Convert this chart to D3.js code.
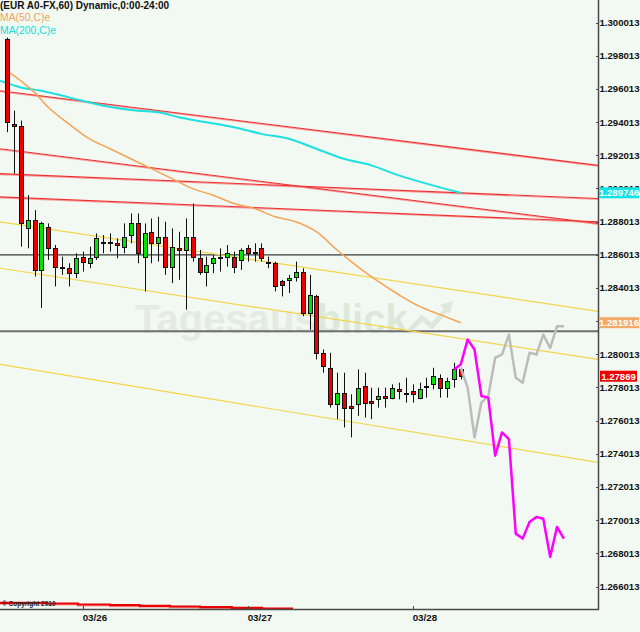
<!DOCTYPE html>
<html><head><meta charset="utf-8">
<script src="https://cdn.jsdelivr.net/npm/d3@7"></script>
<style>html,body{margin:0;padding:0;background:#f2f8f2;}svg{display:block;font-family:"Liberation Sans",Arial,sans-serif;}</style>
</head><body><svg id="c" width="640" height="632"></svg>
<script>
// ---------- DATA (EUR hourly candles) ----------
const startTime = "2013-03-25T13:00:00";   // first candle (hourly)
const candleOpen  = [1.2990,1.2939,1.2938,1.2876,1.2881,1.2851,1.2877,1.2864,1.2853,1.2852,1.2849,1.2859,1.2855,1.2859,1.2868,1.2868,1.2867,1.2865,1.2872,1.2879,1.2859,1.2874,1.2867,1.2871,1.2853,1.2864,1.2863,1.2871,1.2858,1.2850,1.2855,1.2858,1.2859,1.2859,1.2857,1.2864,1.2861,1.2864,1.2856,1.2855,1.2844,1.2845,1.2847,1.2850,1.2825,1.2835,1.2801,1.2792,1.2770,1.2777,1.2769,1.2770,1.2781,1.2772,1.2773,1.2775,1.2774,1.2779,1.2777,1.2778,1.2774,1.2781,1.2782,1.2786,1.2780,1.2785,1.2791];
const candleHigh  = [1.2991,1.2947,1.2941,1.2896,1.2887,1.2880,1.2879,1.2866,1.2859,1.2855,1.2861,1.2862,1.2865,1.2873,1.2872,1.2873,1.2870,1.2879,1.2885,1.2885,1.2879,1.2882,1.2883,1.2880,1.2876,1.2874,1.2882,1.2891,1.2863,1.2859,1.2860,1.2864,1.2866,1.2862,1.2864,1.2866,1.2867,1.2867,1.2859,1.2856,1.2845,1.2848,1.2856,1.2852,1.2848,1.2836,1.2803,1.2801,1.2789,1.2789,1.2776,1.2791,1.2789,1.2780,1.2780,1.2780,1.2782,1.2783,1.2786,1.2782,1.2783,1.2786,1.2792,1.2788,1.2786,1.2795,1.2792];
const candleLow   = [1.2934,1.2909,1.2865,1.2864,1.2847,1.2828,1.2857,1.2841,1.2848,1.2841,1.2846,1.2850,1.2852,1.2857,1.2861,1.2862,1.2858,1.2861,1.2867,1.2855,1.2838,1.2855,1.2856,1.2848,1.2843,1.2845,1.2827,1.2856,1.2848,1.2841,1.2849,1.2850,1.2853,1.2849,1.2851,1.2856,1.2856,1.2856,1.2852,1.2838,1.2835,1.2837,1.2844,1.2823,1.2815,1.2797,1.2789,1.2768,1.2761,1.2756,1.2750,1.2763,1.2762,1.2761,1.2768,1.2768,1.2773,1.2773,1.2771,1.2771,1.2773,1.2774,1.2779,1.2774,1.2774,1.2780,1.2785];
const candleClose = [1.2940,1.2938,1.2879,1.2881,1.2851,1.2879,1.2864,1.2853,1.2852,1.2849,1.2858,1.2856,1.2858,1.2870,1.2868,1.2868,1.2866,1.2871,1.2879,1.2861,1.2873,1.2867,1.2871,1.2853,1.2865,1.2863,1.2871,1.2859,1.2850,1.2854,1.2858,1.2859,1.2861,1.2853,1.2863,1.2861,1.2862,1.2858,1.2855,1.2841,1.2842,1.2846,1.2850,1.2825,1.2836,1.2801,1.2793,1.2770,1.2777,1.2768,1.2768,1.2780,1.2771,1.2771,1.2775,1.2774,1.2780,1.2778,1.2776,1.2776,1.2779,1.2781,1.2787,1.2780,1.2784,1.2791,1.27869];

// moving averages: [candle index, value]
const ma50  = [[0,1.2971],[2,1.2965],[4,1.2958],[6,1.2949],[9,1.2939],[12,1.2930],[15,1.2924],[18,1.2918],[21,1.2912],[24,1.2906],[27,1.2900],[30,1.2896],[33,1.2891],[36,1.2888],[39,1.2883],[42,1.2880],[45,1.2874],[48,1.2863],[51,1.2853],[54,1.2844],[57,1.2836],[60,1.2829],[63,1.2824],[66,1.281916]];
const ma200 = [[-1,1.2965],[2,1.2961],[5,1.2959],[9,1.2955],[14,1.2950],[19,1.2947],[22,1.2946],[25,1.2943],[29,1.2940],[33,1.2937],[37,1.2933],[41,1.2930],[45,1.2924],[49,1.2918],[53,1.2914],[57,1.2908],[61,1.2903],[66,1.289746]];

// forecast paths (hourly, starting at given candle index)
const magentaStart = 65;
const magentaPath = [1.2791,1.2794,1.2809,1.2803,1.2775,1.2774,1.2739,1.2753,1.2749,1.2692,1.2689,1.2699,1.2702,1.2701,1.2678,1.2696,1.2689];
const grayStart = 66;
const grayPath = [1.2792,1.2780,1.2750,1.2771,1.2775,1.2798,1.2800,1.2812,1.2786,1.2783,1.2801,1.2800,1.2812,1.2804,1.2817,1.2817];

// trend lines: [value at left edge, value at right edge]
const redLines    = [[1.2959,1.2914],[1.2924,1.2879],[1.2909,1.2894],[1.2895,1.2880]];
const yellowLines = [[1.2880,1.2826],[1.2852,1.2797],[1.2794,1.2735]];
const levelLines  = [1.2860, 1.2814];

// bottom indicator steps: [start candle index, value]
const bandSteps = [[-1.02,5.7],[5.8,5.0],[10.3,4.0],[15.0,3.3],[19.3,2.7],[23.7,2.0],[28.1,1.3],[32.7,0.7],[37.1,0.0],[41.6,0.0]];

const yTicks = [1.300013,1.298013,1.296013,1.294013,1.292013,1.290013,1.288013,1.286013,1.284013,1.282013,1.280013,1.278013,1.276013,1.274013,1.272013,1.270013,1.268013,1.266013];
const dayTicks = ["2013-03-26T00:00:00","2013-03-27T00:00:00","2013-03-28T00:00:00"];
const boxValues = ["1.289746","1.281916","1.27869"];
const boxColors = ["#10e4e4","#f2aa66","#f00000"];

// ---------- CHART ----------
const HOUR = 3600e3;
const T0 = new Date(startTime).getTime();
const tOf = i => new Date(T0 + i*HOUR);
const PW = 598, PH = 609;
const x = d3.scaleTime().domain([tOf(-1.018), tOf(85.96)]).range([0, PW]);
const y = d3.scaleLinear().domain([1.266013, 1.300013]).range([586.5, 22.5]);
const band = d3.scaleLinear().domain([0,10]).range([608.5, 598.5]);

const svg = d3.select("#c");
svg.append("rect").attr("width",640).attr("height",632).attr("fill","#f2f8f2");
svg.append("defs").append("clipPath").attr("id","pc").append("rect").attr("width",PW).attr("height",PH);
const g = svg.append("g").attr("clip-path","url(#pc)");

// watermark
const wm = g.append("text").attr("x",135).attr("y",333).attr("font-size",40).attr("font-weight","bold")
  .attr("font-family","Liberation Sans, Arial, sans-serif");
wm.append("tspan").attr("fill","#e4eae4").text("Tagesaus");
wm.append("tspan").attr("fill","#dce8d9").text("blick");
g.append("path").attr("d","M409,331 L422,318 L432,326 L447,309").attr("fill","none").attr("stroke","#dce8d9").attr("stroke-width",5);
g.append("path").attr("d","M440,305 L453,301 L450,314 Z").attr("fill","#dce8d9");

// level lines
g.selectAll(".lvl").data(levelLines).join("line")
  .attr("x1",0).attr("x2",PW).attr("y1",d=>y(d)).attr("y2",d=>y(d))
  .attr("stroke",(d,i)=>i===0?"#3a3a3a":"#6e6e6e").attr("stroke-width",(d,i)=>i===0?1.2:2);

const x0 = x.domain()[0], x1 = x.domain()[1];
// yellow channel
g.selectAll(".yl").data(yellowLines).join("line")
  .attr("x1",x(x0)).attr("x2",x(x1)).attr("y1",d=>y(d[0])).attr("y2",d=>y(d[1]))
  .attr("stroke","#f2d64a").attr("stroke-width",1.2);
// red channel
g.selectAll(".rlh").data(redLines).join("line")
  .attr("x1",x(x0)).attr("x2",x(x1)).attr("y1",d=>y(d[0])+0.8).attr("y2",d=>y(d[1])+0.8)
  .attr("stroke","#f4a0a0").attr("stroke-width",1.4);
g.selectAll(".rl").data(redLines).join("line")
  .attr("x1",x(x0)).attr("x2",x(x1)).attr("y1",d=>y(d[0])).attr("y2",d=>y(d[1]))
  .attr("stroke","#f03030").attr("stroke-width",1.1);

// moving averages
const maLine = d3.line().x(d=>x(tOf(d[0]))).y(d=>y(d[1])).curve(d3.curveMonotoneX);
g.append("path").attr("d",maLine(ma200)).attr("fill","none").attr("stroke","#1ee0e0").attr("stroke-width",2);
g.append("path").attr("d",maLine(ma50)).attr("fill","none").attr("stroke","#f4a455").attr("stroke-width",1.5);

// candles
const candles = candleOpen.map((o,i)=>({i,o,h:candleHigh[i],l:candleLow[i],c:candleClose[i]}));
const cg = g.append("g");
candles.forEach(d=>{
  const cx = Math.round(x(tOf(d.i)));
  cg.append("line").attr("x1",cx+0.5).attr("x2",cx+0.5).attr("y1",y(d.h)).attr("y2",y(d.l))
    .attr("stroke","#111").attr("stroke-width",1);
  const top = Math.round(y(Math.max(d.o,d.c))), bot = Math.round(y(Math.min(d.o,d.c)));
  cg.append("rect").attr("x",cx-1.5).attr("width",4).attr("y",top+0.5).attr("height",Math.max(1,bot-top))
    .attr("fill",d.c>d.o?"#00e400":"#ee0000").attr("stroke","#111").attr("stroke-width",1);
});

// forecast lines
const fLine = start => d3.line().x((d,k)=>x(tOf(start+k))).y(d=>y(d));
g.append("path").attr("d",fLine(grayStart)(grayPath)).attr("fill","none").attr("stroke","#bcbcbc").attr("stroke-width",2.5).attr("stroke-linejoin","round");
g.append("path").attr("d",fLine(magentaStart)(magentaPath)).attr("fill","none").attr("stroke","#ff00ff").attr("stroke-width",2.5).attr("stroke-linejoin","round");

// bottom band
g.append("path").attr("d",d3.line().x(d=>x(tOf(d[0]))).y(d=>band(d[1])+1.2).curve(d3.curveStepAfter)(bandSteps))
  .attr("fill","none").attr("stroke","#f6a0a0").attr("stroke-width",1.6);
g.append("path").attr("d",d3.line().x(d=>x(tOf(d[0]))).y(d=>band(d[1])).curve(d3.curveStepAfter)(bandSteps))
  .attr("fill","none").attr("stroke","#e80000").attr("stroke-width",2.2);
svg.append("text").attr("x",2).attr("y",606).attr("font-size",6.5).attr("font-weight","bold").attr("fill","#222").text("© Copyright 2010");

// axes lines
svg.append("line").attr("x1",PW+0.5).attr("x2",PW+0.5).attr("y1",0).attr("y2",PH+1).attr("stroke","#4a4a4a").attr("stroke-width",1.5);
svg.append("line").attr("x1",0).attr("x2",PW+1).attr("y1",PH+0.5).attr("y2",PH+0.5).attr("stroke","#4a4a4a").attr("stroke-width",1.5);

// value box extents (to hide tick labels fully covered by a box)
const boxes = boxValues.map((s,k)=>({s,v:+s,cy:y(+s),col:boxColors[k]}));
const hidden = d => boxes.some(b=>Math.abs(y(d)-b.cy)<2.5);

// y ticks + labels
svg.selectAll(".yt").data(yTicks).join("line")
  .attr("x1",PW-2).attr("x2",PW).attr("y1",d=>Math.round(y(d))+0.5).attr("y2",d=>Math.round(y(d))+0.5).attr("stroke","#4a4a4a");
svg.selectAll(".ylab").data(yTicks.filter(d=>!hidden(d))).join("text")
  .attr("x",599.5).attr("y",d=>y(d)+3.5).attr("font-size",9.6).attr("font-weight","bold").attr("fill","#111")
  .text(d=>d3.format(".6f")(d));

// x ticks + labels
const days = dayTicks.map(s=>new Date(s));
svg.selectAll(".xt").data(days).join("line")
  .attr("x1",d=>Math.round(x(d))+0.5).attr("x2",d=>Math.round(x(d))+0.5).attr("y1",PH-3).attr("y2",PH).attr("stroke","#4a4a4a");
svg.selectAll(".xlab").data(days).join("text")
  .attr("x",d=>x(d)).attr("y",621).attr("font-size",9.8).attr("font-weight","bold").attr("fill","#111")
  .text(d3.timeFormat("%m/%d"));

// value boxes
boxes.forEach(b=>{
  const w = b.s.length>7 ? 40 : 37, x0b = b.s.length>7 ? 599 : 600;
  svg.append("rect").attr("x",x0b).attr("y",b.cy-5.5).attr("width",w).attr("height",11).attr("fill",b.col);
  svg.append("text").attr("x",x0b+w/2).attr("y",b.cy+3.5).attr("text-anchor","middle").attr("font-size",9.6)
    .attr("font-weight","bold").attr("fill","#fff").text(b.s);
});

// legend / title
svg.append("text").attr("x",0).attr("y",9).attr("font-size",10).attr("font-weight","bold").attr("fill","#111").text("(EUR A0-FX,60) Dynamic,0:00-24:00");
svg.append("text").attr("x",0).attr("y",21).attr("font-size",10.4).attr("fill","#f4a455").text("MA(50,C)e");
svg.append("text").attr("x",0).attr("y",34).attr("font-size",10.4).attr("fill","#10dede").text("MA(200,C)e");
</script></body></html>
